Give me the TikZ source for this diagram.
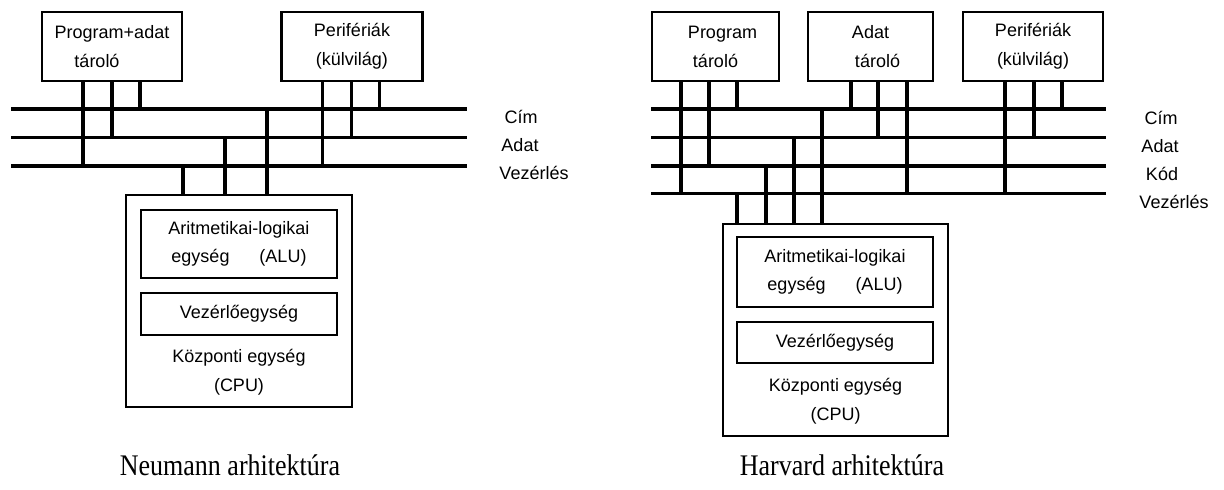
\documentclass[tikz,border=0pt]{standalone}
\usepackage{fontspec}
\usepackage{graphicx}
\setmainfont{Liberation Sans}
\newfontfamily\titleserif{Liberation Serif}
\newcommand{\tallcaption}[1]{\scalebox{1}[1.15]{#1}}
\begin{document}
\begin{tikzpicture}[x=1pt,y=-1pt,
  bus/.style={line width=3.6pt},
  tap/.style={line width=3.6pt},
  unit/.style={draw,line width=2.4pt,outer sep=0pt,inner sep=0pt,align=center,
    font=\fontsize{18}{29}\selectfont},
  part/.style={draw,line width=1.4pt,outer sep=0pt,inner sep=0pt,align=center,
    minimum width=196pt,font=\fontsize{18}{28}\selectfont},
  txt/.style={inner sep=0pt,align=center,font=\fontsize{18}{29}\selectfont},
  buslabel/.style={inner sep=0pt,font=\fontsize{18}{22}\selectfont},
  caption/.style={inner sep=0pt,font=\titleserif\fontsize{26}{30}\selectfont}
]
\useasboundingbox (0,0) rectangle (1224,490);

% ---------------- Neumann architecture ----------------
\node[unit,minimum width=140pt,minimum height=69pt] (npa) at (112,46.5)
  {Program+adat\\tároló\hspace*{30pt}};
\node[unit,minimum width=141pt,minimum height=69pt] (npe) at (352,46.5)
  {Perifériák\\(külvilág)};

% address, data and control bus
\coordinate (nCimL) at (11,109);    \coordinate (nCimR) at (467,109);
\coordinate (nAdatL) at (11,137.5); \coordinate (nAdatR) at (467,137.5);
\coordinate (nVezL) at (11,166);    \coordinate (nVezR) at (467,166);
\draw[bus] (nCimL) -- (nCimR);
\draw[bus] (nAdatL) -- (nAdatR);
\draw[bus] (nVezL) -- (nVezR);

\node[buslabel] (nlCim) at (521,117) {Cím};
\node[buslabel] (nlAdat) at (520,145) {Adat};
\node[buslabel] (nlVez) at (534,173) {Vezérlés};

% CPU
\node[unit,minimum width=226pt,minimum height=212pt] (ncpu) at (239,301) {};
\node[part,minimum height=68pt] (nalu) at (239,244)
  {Aritmetikai-logikai\\egység\hspace{30pt}(ALU)};
\node[part,minimum height=42pt] (nctl) at (239,314) {Vezérlőegység};
\node[txt] (ncpul) at (239,372.5) {Központi egység\\(CPU)};

% memory taps
\draw[tap] ([xshift=41pt]npa.south west) coordinate (t) -- (t |- nVezL);
\draw[tap] ([xshift=70pt]npa.south west) coordinate (t) -- (t |- nAdatL);
\draw[tap] ([xshift=98pt]npa.south west) coordinate (t) -- (t |- nCimL);
% peripheral taps
\draw[tap] ([xshift=41pt]npe.south west) coordinate (t) -- (t |- nVezL);
\draw[tap] ([xshift=70pt]npe.south west) coordinate (t) -- (t |- nAdatL);
\draw[tap] ([xshift=98pt]npe.south west) coordinate (t) -- (t |- nCimL);
% CPU taps
\draw[tap] ([xshift=57pt]ncpu.north west) coordinate (t) -- (t |- nVezL);
\draw[tap] ([xshift=99pt]ncpu.north west) coordinate (t) -- (t |- nAdatL);
\draw[tap] ([xshift=141pt]ncpu.north west) coordinate (t) -- (t |- nCimL);

\node[caption] (ncap) at (230,465) {\tallcaption{Neumann arhitektúra}};

% ---------------- Harvard architecture ----------------
\node[unit,minimum width=127pt,minimum height=69pt] (hpt) at (715.5,46.5)
  {\hspace*{14pt}Program\\tároló};
\node[unit,minimum width=125pt,minimum height=69pt] (hat) at (870.5,46.5)
  {Adat\\\hspace*{14pt}tároló};
\node[unit,minimum width=140pt,minimum height=69pt] (hpe) at (1033,46.5)
  {Perifériák\\(külvilág)};

% address, data, code and control bus
\coordinate (hCimL) at (651,109);    \coordinate (hCimR) at (1106,109);
\coordinate (hAdatL) at (651,137.5); \coordinate (hAdatR) at (1106,137.5);
\coordinate (hKodL) at (651,166);    \coordinate (hKodR) at (1106,166);
\coordinate (hVezL) at (651,193.5);  \coordinate (hVezR) at (1106,193.5);
\draw[bus] (hCimL) -- (hCimR);
\draw[bus] (hAdatL) -- (hAdatR);
\draw[bus] (hKodL) -- (hKodR);
\draw[bus] (hVezL) -- (hVezR);

\node[buslabel] (hlCim) at (1161,118) {Cím};
\node[buslabel] (hlAdat) at (1160,146) {Adat};
\node[buslabel] (hlKod) at (1162,174) {Kód};
\node[buslabel] (hlVez) at (1174,202) {Vezérlés};

% CPU
\node[unit,minimum width=225pt,minimum height=212pt] (hcpu) at (835.5,330) {};
\node[part,minimum height=70pt] (halu) at (835,272)
  {Aritmetikai-logikai\\egység\hspace{30pt}(ALU)};
\node[part,minimum height=41pt] (hctl) at (835,342.5) {Vezérlőegység};
\node[txt] (hcpul) at (835.5,401) {Központi egység\\(CPU)};

% program memory taps
\draw[tap] ([xshift=29pt]hpt.south west) coordinate (t) -- (t |- hVezL);
\draw[tap] ([xshift=57pt]hpt.south west) coordinate (t) -- (t |- hKodL);
\draw[tap] ([xshift=85pt]hpt.south west) coordinate (t) -- (t |- hCimL);
% data memory taps
\draw[tap] ([xshift=43pt]hat.south west) coordinate (t) -- (t |- hCimL);
\draw[tap] ([xshift=70pt]hat.south west) coordinate (t) -- (t |- hAdatL);
\draw[tap] ([xshift=99pt]hat.south west) coordinate (t) -- (t |- hVezL);
% peripheral taps
\draw[tap] ([xshift=42pt]hpe.south west) coordinate (t) -- (t |- hVezL);
\draw[tap] ([xshift=71pt]hpe.south west) coordinate (t) -- (t |- hAdatL);
\draw[tap] ([xshift=99pt]hpe.south west) coordinate (t) -- (t |- hCimL);
% CPU taps
\draw[tap] ([xshift=14pt]hcpu.north west) coordinate (t) -- (t |- hVezL);
\draw[tap] ([xshift=43pt]hcpu.north west) coordinate (t) -- (t |- hKodL);
\draw[tap] ([xshift=71pt]hcpu.north west) coordinate (t) -- (t |- hAdatL);
\draw[tap] ([xshift=99pt]hcpu.north west) coordinate (t) -- (t |- hCimL);

\node[caption] (hcap) at (842,465) {\tallcaption{Harvard arhitektúra}};
\end{tikzpicture}
\end{document}
